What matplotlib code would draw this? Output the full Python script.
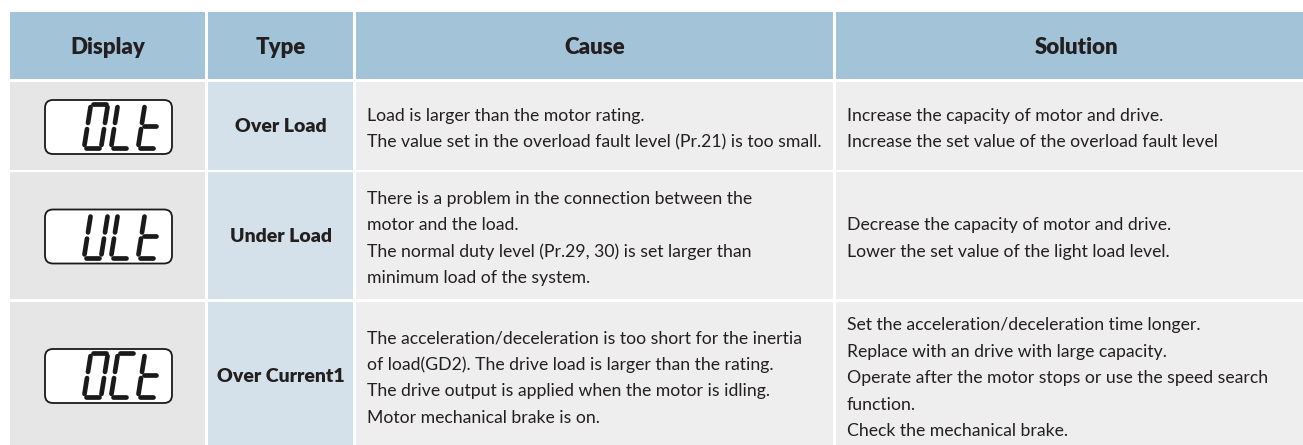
import matplotlib.pyplot as plt
from matplotlib.patches import Rectangle, FancyBboxPatch

# table content
headers = ['Display', 'Type', 'Cause', 'Solution']
displays = ['OLt', 'ULt', 'OCt']
types = ['Over Load', 'Under Load', 'Over Current1']
causes = [
    ['Load is larger than the motor rating.',
     'The value set in the overload fault level (Pr.21) is too small.'],
    ['There is a problem in the connection between the',
     'motor and the load.',
     'The normal duty level (Pr.29, 30) is set larger than',
     'minimum load of the system.'],
    ['The acceleration/deceleration is too short for the inertia',
     'of load(GD2). The drive load is larger than the rating.',
     'The drive output is applied when the motor is idling.',
     'Motor mechanical brake is on.'],
]
solutions = [
    ['Increase the capacity of motor and drive.',
     'Increase the set value of the overload fault level'],
    ['Decrease the capacity of motor and drive.',
     'Lower the set value of the light load level.'],
    ['Set the acceleration/deceleration time longer.',
     'Replace with an drive with large capacity.',
     'Operate after the motor stops or use the speed search',
     'function.',
     'Check the mechanical brake.'],
]

# seven segment shapes (unit coords, v measured from bottom)
SEG = {
    'a': ((0.12, 1.0), (0.88, 1.0)),
    'b': ((1.0, 0.93), (1.0, 0.57)),
    'c': ((1.0, 0.43), (1.0, 0.07)),
    'd': ((0.12, 0.0), (0.88, 0.0)),
    'e': ((0.0, 0.07), (0.0, 0.43)),
    'f': ((0.0, 0.57), (0.0, 0.93)),
    'g': ((0.12, 0.5), (0.88, 0.5)),
}
CHARS = {'O': 'abcdef', 'L': 'def', 't': 'defg', 'U': 'bcdef', 'C': 'adef'}

FONT = ['Lato', 'DejaVu Sans']
TXT = '#231f20'
HEAD_BG = '#a3c4d8'
DISP_BG = '#e6e6e6'
TYPE_BG = '#d4e1ea'
BODY_BG = '#eeeeee'

W, H = 1303, 445
fig = plt.figure(figsize=(W / 100, H / 100), dpi=100)
ax = fig.add_axes([0, 0, 1, 1])
ax.set_xlim(0, W)
ax.set_ylim(H, 0)
ax.axis('off')

cols = [(10, 205), (208, 353), (356, 833), (836, 1310)]
header_row = (12, 79)
rows = [(82, 170), (172, 299), (302, 452)]
row_mid = [127, 236.5, 376]
line_h = 26.5


def seven_seg(text, x0, ybot, w=17, h=44, slant=7, pitch=27):
    for k, ch in enumerate(text):
        cx = x0 + k * pitch
        for s in CHARS[ch]:
            (u1, v1), (u2, v2) = SEG[s]
            xs = [cx + u1 * w + v1 * slant, cx + u2 * w + v2 * slant]
            ys = [ybot - v1 * h, ybot - v2 * h]
            ax.plot(xs, ys, color='#1a1a1a', lw=3.4, solid_capstyle='round')


# header
for (x1, x2), name in zip(cols, headers):
    ax.add_patch(Rectangle((x1, header_row[0]), x2 - x1, header_row[1] - header_row[0],
                           facecolor=HEAD_BG, edgecolor='none'))
    ax.text((x1 + x2) / 2 + (4 if name == 'Solution' else 0), 47, name, ha='center', va='center',
            fontsize=16, fontweight='heavy', color=TXT, family=FONT)

for i, (y1, y2) in enumerate(rows):
    for j, (x1, x2) in enumerate(cols):
        bg = [DISP_BG, TYPE_BG, BODY_BG, BODY_BG][j]
        ax.add_patch(Rectangle((x1, y1), x2 - x1, y2 - y1, facecolor=bg, edgecolor='none'))

    ym = row_mid[i]
    # display box
    ax.add_patch(FancyBboxPatch((47, ym - 25), 123, 50,
                                boxstyle='round,pad=2,rounding_size=8',
                                facecolor='white', edgecolor='#1a1a1a', lw=1.3))
    seven_seg(displays[i], 84, ym + 21)

    ax.text(280.5, ym, types[i], ha='center', va='center', fontsize=14,
            fontweight='heavy', color=TXT, family=FONT)

    for lines, x in ((causes[i], 367), (solutions[i], 847)):
        n = len(lines)
        for k, line in enumerate(lines):
            ax.text(x, ym + 2 + (k - (n - 1) / 2) * line_h, line, ha='left', va='center',
                    fontsize=12.7, color=TXT, family=FONT)

fig.savefig('out.png', dpi=100)
